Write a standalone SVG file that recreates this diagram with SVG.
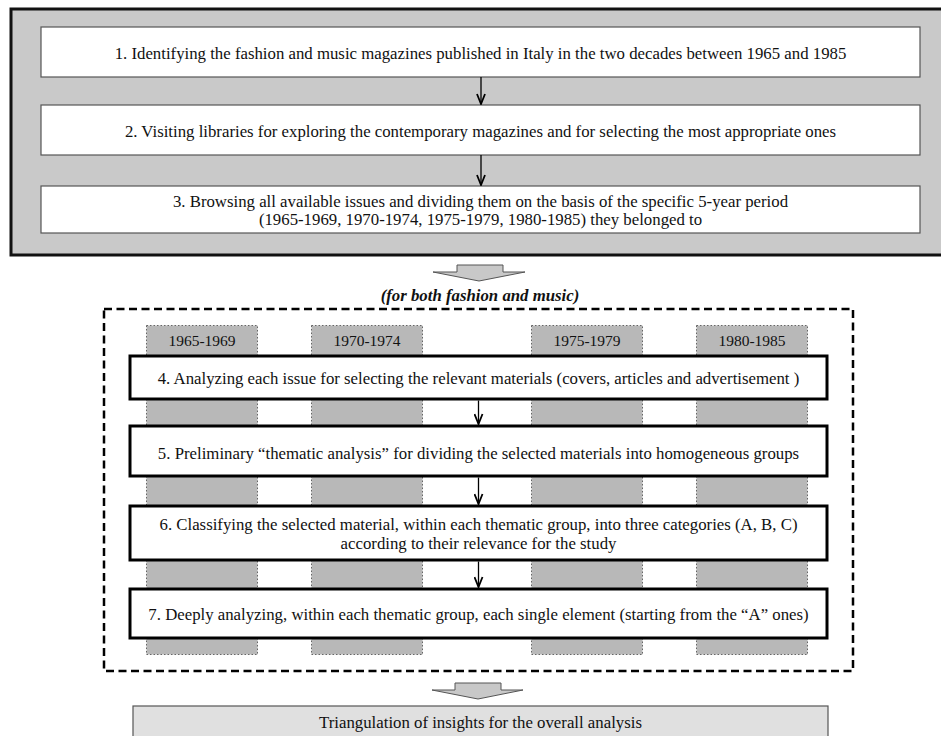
<svg xmlns="http://www.w3.org/2000/svg" width="941" height="736" viewBox="0 0 941 736">
<defs>
<style>
text{font-family:"Liberation Serif","Times New Roman",serif;font-size:16.8px;fill:#111;text-anchor:middle}
.yr{font-size:15.5px}
.it{font-weight:bold;font-style:italic}
.wbox{fill:#fff;stroke:#555;stroke-width:1.2}
.tbox{fill:#fff;stroke:#000;stroke-width:3}
.col{fill:#b8b8b8;stroke:#666;stroke-width:1;stroke-dasharray:1.5 2}
.conn{stroke:#000;stroke-width:1.3;fill:none}
.blk{fill:#c8c8c8;stroke:#555;stroke-width:1}
</style>
<marker id="ah" viewBox="0 0 12 10" refX="11" refY="5" markerWidth="12" markerHeight="10" markerUnits="userSpaceOnUse" orient="auto">
<path d="M1,1 L11,5 L1,9" fill="none" stroke="#000" stroke-width="1.8"/>
</marker>
</defs>
<rect width="941" height="736" fill="#fff"/>

<g id="phase1">
<rect x="11" y="9" width="934" height="246" fill="#c9c9c9" stroke="#111" stroke-width="3"/>
</g>
<g id="n1"><rect class="wbox" x="41" y="27" width="879" height="50"/><text x="480.5" y="59">1. Identifying the fashion and music magazines published in Italy in the two decades between 1965 and 1985</text></g>
<g id="n2"><rect class="wbox" x="41" y="105" width="879" height="50"/><text x="480.5" y="137">2. Visiting libraries for exploring the contemporary magazines and for selecting the most appropriate ones</text></g>
<g id="n3"><rect class="wbox" x="41" y="186" width="879" height="47"/><text x="480.5" y="207">3. Browsing all available issues and dividing them on the basis of the specific 5-year period</text><text x="480.5" y="225">(1965-1969, 1970-1974, 1975-1979, 1980-1985) they belonged to</text></g>

<g id="arrowA"><path class="blk" d="M457,265 L503,265 L503,272 L525,272 L479,281 L433,272 L457,272 Z"/></g>
<g id="label"><text class="it" x="480" y="301">(for both fashion and music)</text></g>

<g id="phase2"><rect x="104" y="309" width="749" height="362" fill="none" stroke="#000" stroke-width="2.5" stroke-dasharray="8 4.5"/></g>

<g id="c1"><rect class="col" x="146.5" y="325.5" width="111" height="329"/><text class="yr" x="202" y="346">1965-1969</text></g>
<g id="c2"><rect class="col" x="311.5" y="325.5" width="111" height="329"/><text class="yr" x="367" y="346">1970-1974</text></g>
<g id="c3"><rect class="col" x="531.5" y="325.5" width="111" height="329"/><text class="yr" x="587" y="346">1975-1979</text></g>
<g id="c4"><rect class="col" x="696.5" y="325.5" width="111" height="329"/><text class="yr" x="752" y="346">1980-1985</text></g>

<g id="n4"><rect class="tbox" x="130" y="356" width="697" height="43"/><text x="478.5" y="384">4. Analyzing each issue for selecting the relevant materials (covers, articles and advertisement )</text></g>
<g id="n5"><rect class="tbox" x="130" y="426" width="697" height="50"/><text x="478.5" y="459">5. Preliminary “thematic analysis” for dividing the selected materials into homogeneous groups</text></g>
<g id="n6"><rect class="tbox" x="130" y="506" width="697" height="54"/><text x="478.5" y="530">6. Classifying the selected material, within each thematic group, into three categories (A, B, C)</text><text x="478.5" y="549">according to their relevance for the study</text></g>
<g id="n7"><rect class="tbox" x="130" y="589" width="697" height="49"/><text x="478.5" y="620">7. Deeply analyzing, within each thematic group, each single element (starting from the “A” ones)</text></g>

<g id="arrowB"><path class="blk" d="M455,683 L501,683 L501,690 L523,690 L478,699 L432,690 L455,690 Z"/></g>
<g id="n8"><rect x="133" y="706" width="695" height="40" fill="#e0e0e0" stroke="#555" stroke-width="1.2"/><text x="480.5" y="728">Triangulation of insights for the overall analysis</text></g>

<g id="connectors">
<line class="conn" x1="481" y1="77" x2="481" y2="104" marker-end="url(#ah)"/>
<line class="conn" x1="481" y1="155" x2="481" y2="185" marker-end="url(#ah)"/>
<line class="conn" x1="478.5" y1="400.5" x2="478.5" y2="424" marker-end="url(#ah)"/>
<line class="conn" x1="478.5" y1="477.5" x2="478.5" y2="504" marker-end="url(#ah)"/>
<line class="conn" x1="478.5" y1="561.5" x2="478.5" y2="587" marker-end="url(#ah)"/>
</g>
</svg>
